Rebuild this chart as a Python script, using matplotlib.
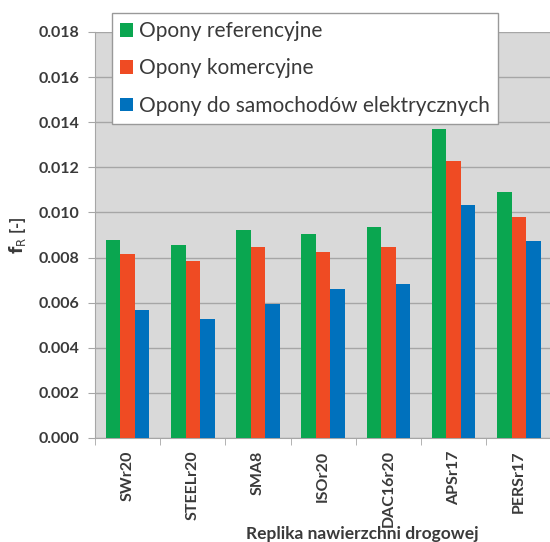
import matplotlib
matplotlib.use("Agg")
import matplotlib.pyplot as plt
import numpy as np

# replica surfaces and rolling resistance coefficients
categories = ["SWr20", "STEELr20", "SMA8", "ISOr20", "DAC16r20", "APSr17", "PERSr17"]
ref_tyres = [0.00879, 0.00857, 0.00923, 0.00905, 0.00935, 0.01371, 0.01090]
com_tyres = [0.00817, 0.00783, 0.00845, 0.00823, 0.00845, 0.01226, 0.00979]
ev_tyres = [0.00569, 0.00527, 0.00595, 0.00662, 0.00684, 0.01033, 0.00874]
series_names = ["Opony referencyjne", "Opony komercyjne",
                "Opony do samochodów elektrycznych"]
yticks = [0.000, 0.002, 0.004, 0.006, 0.008, 0.010, 0.012, 0.014, 0.016, 0.018]

plt.rcParams['font.family'] = ['Lato', 'DejaVu Sans']
txt = '#3a3a3a'

fig = plt.figure(figsize=(5.5, 5.42), dpi=100)
ax = fig.add_axes([0.1727, 0.192, 0.83, 0.749])
ax.set_facecolor('#d9d9d9')

x = np.arange(len(categories))
w = 1 / 4.5
colors = ['#0aa650', '#ef4b23', '#0071bd']
for i, (vals, c, name) in enumerate(zip([ref_tyres, com_tyres, ev_tyres], colors, series_names)):
    ax.bar(x + (i - 1) * w, vals, width=w, color=c, label=name, zorder=3)

ax.set_xlim(-0.5, len(categories) - 0.5)
ax.set_ylim(0, 0.018)
ax.set_yticks(yticks)
ax.set_yticklabels(['%.3f' % v for v in yticks], fontsize=11.5, fontweight='bold', color=txt)
ax.yaxis.grid(True, color='#a6a6a6', linewidth=1, zorder=1)
ax.tick_params(axis='y', length=5, color='#a6a6a6', pad=6)

ax.set_xticks(x)
ax.set_xticklabels(categories, rotation=90, fontsize=11.5, fontweight='bold', color=txt)
ax.set_xticks(np.arange(len(categories) + 1) - 0.5, minor=True)
ax.tick_params(axis='x', which='major', length=0, pad=9)
ax.tick_params(axis='x', which='minor', length=5, color='#a6a6a6')

for s in ['top', 'right']:
    ax.spines[s].set_visible(False)
for s in ['left', 'bottom']:
    ax.spines[s].set_color('#a6a6a6')

ax.set_ylabel(r'$\mathbf{f}_{\mathrm{R}}$ [-]', fontsize=12, fontweight='bold', color=txt, labelpad=8)
ax.set_xlabel('Replika nawierzchni drogowej', fontsize=12.5, fontweight='bold', color=txt)
# axis title sits right of centre, near the bottom edge
ax.xaxis.set_label_coords((362 - 95) / 456, -0.218)

fig.legend(loc='upper left', bbox_to_anchor=(0.2036, 0.976), borderaxespad=0,
           fontsize=15, frameon=True, fancybox=False, edgecolor='#999999',
           framealpha=1, handlelength=0.6, handleheight=0.6, handletextpad=0.3,
           labelspacing=0.82, borderpad=0.4, labelcolor=txt)

plt.savefig('out.png', dpi=100)
